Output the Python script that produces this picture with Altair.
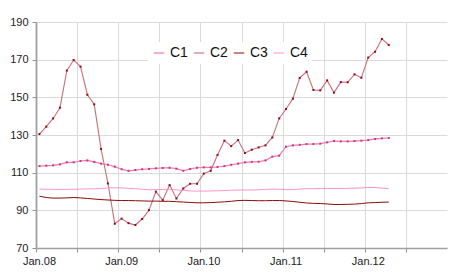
import altair as alt
import pandas as pd

series_names = ["C1", "C2", "C3", "C4"]

c1 = [113.5, 113.7, 113.9, 114.4, 115.5, 115.5, 116.2, 116.5, 115.7, 114.8,
      114.2, 113.2, 111.8, 111.0, 111.4, 111.8, 112.0, 112.3, 112.5, 112.6,
      112.1, 111.0, 112.0, 112.6, 112.8, 112.8, 113.0, 113.5, 114.2, 114.8,
      115.5, 115.7, 115.8, 116.5, 118.5, 119.0, 123.8, 124.5, 124.8, 125.2,
      125.2, 125.4, 126.1, 126.8, 126.6, 126.6, 126.8, 127.0, 127.3, 127.9,
      128.2, 128.4]
c2 = [130.5, 134.4, 138.8, 144.5, 164.2, 169.8, 166.3, 151.4, 146.3, 122.6,
      104.3, 82.9, 85.6, 83.2, 82.2, 85.4, 90.1, 99.9, 95.4, 103.4,
      96.3, 101.6, 104.1, 104.1, 109.5, 111.0, 119.4, 127.0, 124.1, 127.3,
      120.4, 122.2, 123.4, 124.5, 128.7, 138.8, 143.8, 149.3, 160.3, 163.6,
      153.9, 153.7, 159.0, 152.5, 158.1, 158.0, 162.2, 160.4, 171.1, 174.2,
      181.0, 177.8]
c3 = [97.5, 96.8, 96.5, 96.5, 96.6, 96.8, 96.6, 96.3, 96.0, 95.7,
      95.5, 95.3, 95.2, 95.2, 95.1, 95.0, 94.9, 94.9, 94.8, 94.8,
      94.6, 94.4, 94.2, 94.0, 94.0, 94.1, 94.3, 94.5, 94.8, 95.2,
      95.3, 95.2, 95.1, 95.1, 95.2, 95.2, 95.0, 94.7, 94.3, 93.9,
      93.7, 93.6, 93.4, 93.1, 93.1, 93.2, 93.3, 93.6, 94.0, 94.1,
      94.3, 94.4]
c4 = [101.3, 101.2, 101.1, 101.1, 101.1, 101.2, 101.3, 101.4, 101.4, 101.6,
      101.9, 102.0, 101.9, 101.7, 101.5, 101.2, 100.9, 101.0, 101.1, 101.1,
      100.9, 100.6, 100.3, 100.2, 100.2, 100.3, 100.4, 100.5, 100.7, 100.8,
      100.8, 100.8, 100.9, 101.1, 101.3, 101.2, 101.0, 101.0, 101.3, 101.5,
      101.5, 101.6, 101.6, 101.6, 101.6, 101.7, 101.8, 101.9, 102.2, 102.1,
      101.8, 101.5]

y_ticks = [70, 90, 110, 130, 150, 170, 190]

rows = []
for name, vals in zip(series_names, [c1, c2, c3, c4]):
    for i, v in enumerate(vals):
        rows.append({"series": name, "m": i + 0.5, "value": v})
df = pd.DataFrame(rows)

line_colors = ["#f577b3", "#c8707c", "#8b0a0a", "#ff88c6"]
line_widths = [1.2, 0.9, 1.6, 2.0]

FONT = "Liberation Sans"

x = alt.X(
    "m:Q",
    title=None,
    scale=alt.Scale(domain=[0, 60], nice=False, zero=False),
    axis=alt.Axis(
        values=list(range(0, 60, 6)),
        labelExpr="datum.value % 12 == 0 ? 'Jan.' + format(8 + datum.value / 12, '02d') : ''",
        labelOffset=3,
        labelFlush=False,
        labelOverlap=False,
        grid=True,
        gridColor="#dadada",
        domainColor="#a0a0a0",
        domainWidth=1.5,
        tickColor="#909090",
        tickSize=4,
        labelFont=FONT,
        labelFontSize=11,
        labelColor="#222222",
        labelPadding=3,
    ),
)
y = alt.Y(
    "value:Q",
    title=None,
    scale=alt.Scale(domain=[70, 190], nice=False, zero=False),
    axis=alt.Axis(
        values=y_ticks,
        grid=True,
        gridColor="#dadada",
        domainColor="#a0a0a0",
        domainWidth=1.8,
        tickColor="#909090",
        tickSize=4,
        labelFont=FONT,
        labelFontSize=11,
        labelColor="#222222",
        labelPadding=4,
    ),
)

lines = alt.Chart(df).mark_line().encode(
    x=x,
    y=y,
    color=alt.Color(
        "series:N",
        scale=alt.Scale(domain=series_names, range=line_colors),
        legend=alt.Legend(
            title=None,
            orient="none",
            legendX=112,
            legendY=20,
            direction="horizontal",
            fillColor="white",
            padding=4,
            labelFont=FONT,
            labelFontSize=14,
            labelColor="#111111",
            labelOffset=4,
            columnPadding=3,
            symbolType="stroke",
            symbolSize=110,
            symbolStrokeWidth=1.5,
        ),
    ),
    strokeWidth=alt.StrokeWidth(
        "series:N",
        scale=alt.Scale(domain=series_names, range=line_widths),
        legend=None,
    ),
    order="m:Q",
)

points = alt.Chart(df).transform_filter(
    "datum.series == 'C1' || datum.series == 'C2'"
).mark_square(size=4, opacity=1).encode(
    x=x,
    y=y,
    color=alt.condition(
        "datum.series == 'C1'", alt.value("#c8387a"), alt.value("#900a18")
    ),
)

chart = alt.layer(lines, points).properties(
    width=411,
    height=226,
    autosize=alt.AutoSizeParams(type="none"),
    padding={"left": 36, "top": 22, "right": 3, "bottom": 31},
    background="white",
).configure_view(stroke=None)

chart.save("out.html", embed_options={"renderer": "svg", "actions": False})
